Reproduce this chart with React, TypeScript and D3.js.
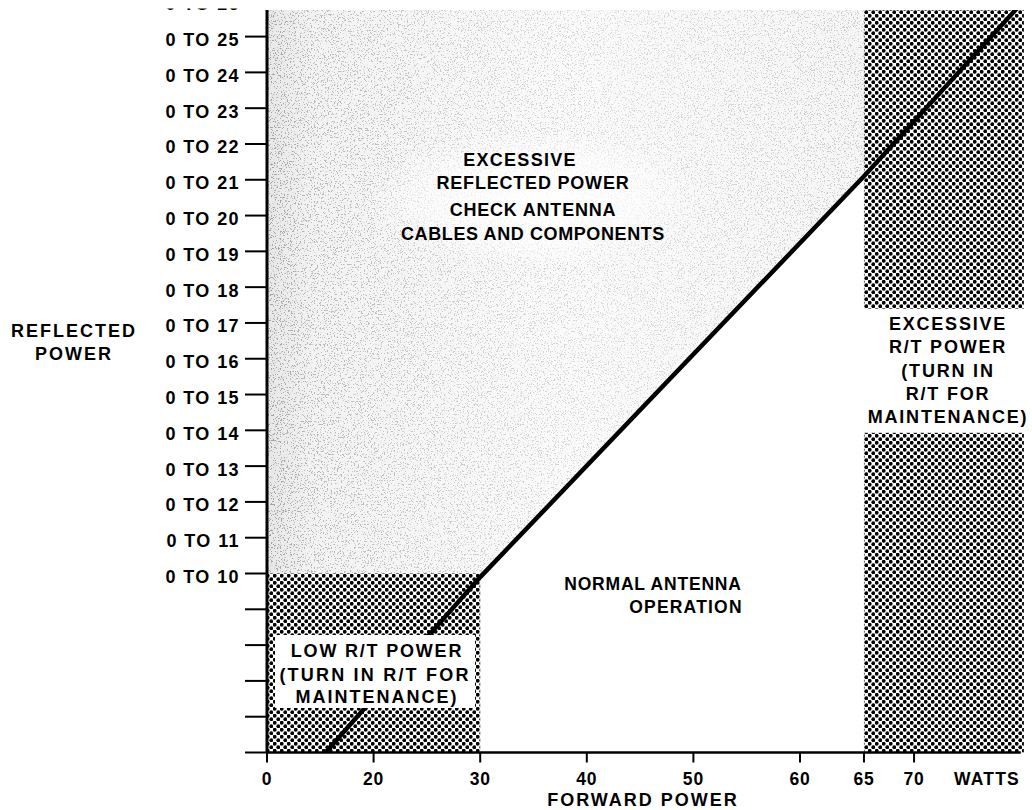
import React from "react";
import * as d3 from "d3";

// ---------------- DATA ----------------
const forwardTicks = [0, 20, 30, 40, 50, 60, 65, 70];
const forwardTickLabels = ["0", "20", "30", "40", "50", "60", "65", "70"];
const forwardKnots = [0, 20, 30, 40, 50, 60, 65, 70, 80.5];
const reflectedTicks = [0, 2, 4, 6, 8, 10, 11, 12, 13, 14, 15, 16, 17, 18, 19, 20, 21, 22, 23, 24, 25, 26];
const reflectedLabelled = [10, 11, 12, 13, 14, 15, 16, 17, 18, 19, 20, 21, 22, 23, 24, 25, 26];
const reflectedKnots = [0, 10, 26];
// boundary between normal operation and excessive reflected power
const boundary: [number, number][] = [[11, 0], [30, 9.8], [65, 21.1], [80.5, 26]];
const lowPowerBox = { f0: 0, f1: 30, r0: 0, r1: 10 };
const excessColumnF = [65, 80.5];
const excessColumnBands: [number, number][] = [[0, 13.93], [17.4, 26]];
const topLabel = ["EXCESSIVE", "REFLECTED POWER", "CHECK ANTENNA", "CABLES AND COMPONENTS"];
const normalLabel = ["NORMAL ANTENNA", "OPERATION"];
const lowLabel = ["LOW R/T POWER", "(TURN IN R/T FOR", "MAINTENANCE)"];
const rtLabel = ["EXCESSIVE", "R/T POWER", "(TURN IN", "R/T FOR", "MAINTENANCE)"];
const yTitle = ["REFLECTED", "POWER"];
const xTitle = "FORWARD POWER";
const xUnit = "WATTS";

// ---------------- LAYOUT ----------------
const W = 1032;
const H = 810;
const X0 = 267;
const XU = 106.6;
const forwardUnits = [0, 1, 2, 3, 4, 5, 5.6, 6.07, 7.1];
const yRange = [752.5, 573.5, 0.8];
const plotTop = 10;
const FONT = "'Liberation Sans', Arial, Helvetica, sans-serif";

const fx = d3.scaleLinear().domain(forwardKnots).range(forwardUnits.map((u) => X0 + u * XU));
const fy = d3.scaleLinear().domain(reflectedKnots).range(yRange);

export default function App() {
  const xL = fx(0);
  const xR = fx(80.5);
  const yB = fy(0);
  const line = d3.line<[number, number]>().x((d) => fx(d[0])).y((d) => fy(d[1]));

  // light region: above boundary, left of 65 W, above 10 (left of 30 W)
  const lightPts: [number, number][] = [
    [xL, plotTop],
    [xL, fy(10)],
    [fx(30), fy(10)],
    [fx(boundary[1][0]), fy(boundary[1][1])],
    [fx(boundary[2][0]), fy(boundary[2][1])],
    [fx(65), plotTop],
  ];
  const lightPath = "M" + lightPts.map((p) => p.join(",")).join("L") + "Z";

  const txt = (s: string, x: number, y: number, size = 17, ls = 1, anchor = "middle", key?: any) => (
    <text
      key={key ?? s + x + y}
      x={x}
      y={y}
      textAnchor={anchor as any}
      fontFamily={FONT}
      fontWeight="bold"
      fontSize={size}
      letterSpacing={ls}
      fill="#000"
    >
      {s}
    </text>
  );

  return (
    <svg
      width={W}
      height={H}
      viewBox={`0 0 ${W} ${H}`}
      style={{ position: "absolute", left: 0, top: 0, background: "#fff" }}
    >
      <defs>
        <pattern id="dots" width="7" height="7" patternUnits="userSpaceOnUse">
          <rect width="7" height="7" fill="#fff" />
          <circle cx="1.75" cy="1.75" r="1.9" fill="#000" />
          <circle cx="5.25" cy="5.25" r="1.9" fill="#000" />
        </pattern>
        <linearGradient id="lightGrad" x1="0" x2="1" y1="0" y2="0">
          <stop offset="0" stopColor="#000" stopOpacity="1" />
          <stop offset="0.06" stopColor="#000" stopOpacity="0.75" />
          <stop offset="0.3" stopColor="#000" stopOpacity="0.5" />
          <stop offset="0.6" stopColor="#000" stopOpacity="0.35" />
          <stop offset="1" stopColor="#000" stopOpacity="0.5" />
        </linearGradient>
        <linearGradient id="tintGrad" x1="0" x2="1" y1="0" y2="0">
          <stop offset="0" stopColor="#e8e8e8" />
          <stop offset="0.08" stopColor="#f3f3f3" />
          <stop offset="0.5" stopColor="#fafafa" />
          <stop offset="1" stopColor="#f6f6f6" />
        </linearGradient>
        <radialGradient id="clearGrad" cx="0.5" cy="0.5" r="0.5">
          <stop offset="0" stopColor="#fff" stopOpacity="0.9" />
          <stop offset="0.6" stopColor="#fff" stopOpacity="0.6" />
          <stop offset="1" stopColor="#fff" stopOpacity="0" />
        </radialGradient>
        <filter id="grain" x="0" y="0" width="100%" height="100%">
          <feTurbulence type="fractalNoise" baseFrequency="0.7" numOctaves="2" seed="7" result="n" />
          <feColorMatrix
            in="n"
            type="matrix"
            values="0 0 0 0 0.35  0 0 0 0 0.35  0 0 0 0 0.35  14 0 0 0 -8.2"
            result="d"
          />
          <feComposite in="d" in2="SourceGraphic" operator="in" />
        </filter>
        <clipPath id="plotClip">
          <rect x={xL} y={plotTop} width={xR - xL + 2} height={yB - plotTop} />
        </clipPath>
      </defs>

      {/* excessive reflected power region (light stipple) */}
      <path d={lightPath} fill="url(#tintGrad)" />
      <path d={lightPath} fill="url(#lightGrad)" filter="url(#grain)" />
      <ellipse cx={532} cy={200} rx={170} ry={70} fill="url(#clearGrad)" />

      {/* low R/T power box */}
      <rect
        x={fx(lowPowerBox.f0)}
        y={fy(lowPowerBox.r1)}
        width={fx(lowPowerBox.f1) - fx(lowPowerBox.f0)}
        height={fy(lowPowerBox.r0) - fy(lowPowerBox.r1)}
        fill="url(#dots)"
      />

      {/* excessive R/T power column */}
      {excessColumnBands.map((b, i) => (
        <rect
          key={i}
          x={fx(excessColumnF[0])}
          y={Math.max(fy(b[1]), plotTop)}
          width={fx(excessColumnF[1]) - fx(excessColumnF[0])}
          height={fy(b[0]) - Math.max(fy(b[1]), plotTop)}
          fill="url(#dots)"
        />
      ))}

      {/* boundary line */}
      <g clipPath="url(#plotClip)">
        <path d={line(boundary) || ""} fill="none" stroke="#000" strokeWidth={4.5} />
      </g>

      {/* white label panel inside the low power box (covers the line) */}
      <rect x={275} y={635} width={200} height={73} fill="#fff" />

      {/* axes */}
      <line x1={xL} x2={xL} y1={plotTop} y2={yB} stroke="#000" strokeWidth={3} />
      <line x1={xL} x2={fx(80.2)} y1={yB} y2={yB} stroke="#000" strokeWidth={2.5} />
      {forwardTicks.map((t, i) => (
        <g key={"xt" + t}>
          <line x1={fx(t)} x2={fx(t)} y1={yB} y2={yB + 10} stroke="#000" strokeWidth={2} />
          {txt(forwardTickLabels[i], fx(t), 785, 17.5, 0.8, "middle", "xl" + t)}
        </g>
      ))}
      {txt(xUnit, 987, 785, 17.5, 1.2, "middle")}
      {txt(xTitle, 643, 806, 18, 2, "middle")}

      {reflectedTicks.map((t) => (
        <g key={"yt" + t}>
          <line x1={245} x2={xL} y1={fy(t)} y2={fy(t)} stroke="#000" strokeWidth={2} />
          {reflectedLabelled.includes(t) && txt("0 TO " + t, 240, fy(t) + 9.5, 18, 1.4, "end", "yl" + t)}
        </g>
      ))}
      {/* scan crop at the very top */}
      <rect x={0} y={0} width={W} height={8.5} fill="#fff" />

      {txt(yTitle[0], 74, 337, 18, 2, "middle")}
      {txt(yTitle[1], 74, 360, 18, 2, "middle")}

      {/* region labels */}
      {txt(topLabel[0], 520, 166, 18, 1.3, "middle")}
      {txt(topLabel[1], 533, 189, 18, 0.8, "middle")}
      {txt(topLabel[2], 533, 216, 18, 0.8, "middle")}
      {txt(topLabel[3], 533, 240, 18, 0.6, "middle")}

      {txt(normalLabel[0], 653, 590, 17.5, 0.8, "middle")}
      {txt(normalLabel[1], 686, 613, 17.5, 1.2, "middle")}

      {txt(lowLabel[0], 377, 657, 18, 1.8, "middle")}
      {txt(lowLabel[1], 375, 681, 18, 2.2, "middle")}
      {txt(lowLabel[2], 377, 703, 18, 2, "middle")}

      {rtLabel.map((s, i) => txt(s, 948, [330, 353, 377, 400, 423][i], 18, 1.8, "middle", "rt" + i))}
    </svg>
  );
}
